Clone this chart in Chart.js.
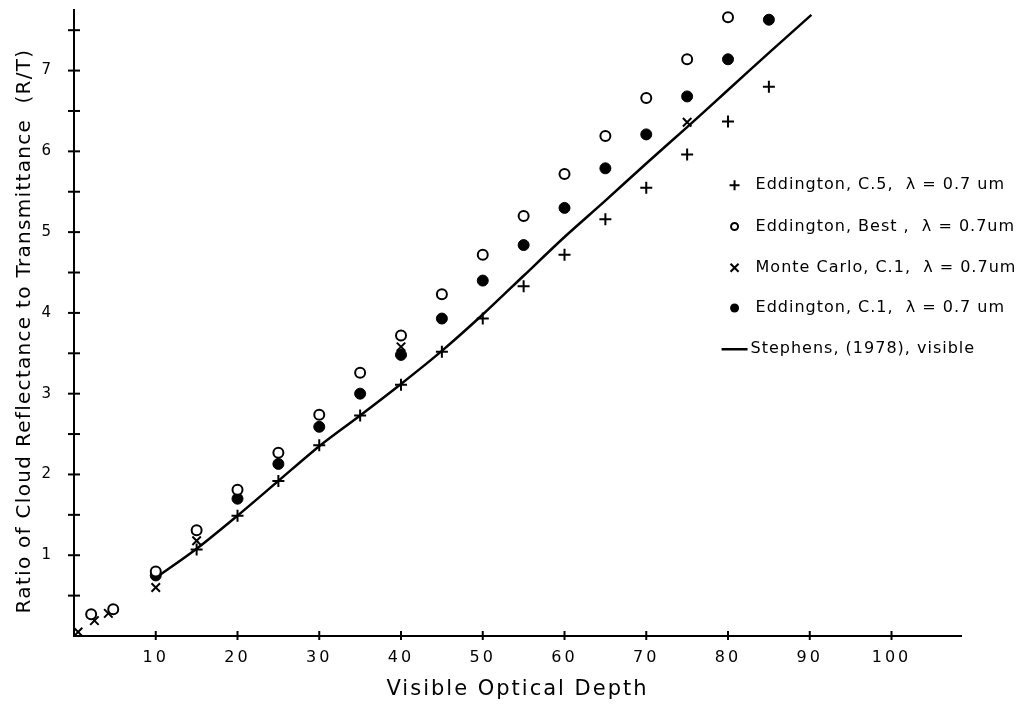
<!DOCTYPE html>
<html>
<head>
<meta charset="utf-8">
<script src="https://cdn.jsdelivr.net/npm/chart.js@4"></script>
<style>
  html, body { margin: 0; padding: 0; background: #fff; }
  #wrap { width: 1021px; height: 709px; }
</style>
</head>
<body>
<div id="wrap"><canvas id="rtChart" width="1021" height="709"></canvas></div>
<script>
// values
const c5Depth = [15, 20, 25, 30, 35, 40, 45, 50, 55, 60, 65, 70, 75, 80, 85];
const c5Ratio = [1.07, 1.49, 1.92, 2.36, 2.73, 3.11, 3.52, 3.93, 4.33, 4.72, 5.16, 5.55, 5.96, 6.37, 6.80];

const bestDepth = [2.1, 4.8, 10, 15, 20, 25, 30, 35, 40, 45, 50, 55, 60, 65, 70, 75, 80];
const bestRatio = [0.27, 0.33, 0.80, 1.31, 1.81, 2.27, 2.74, 3.26, 3.72, 4.23, 4.72, 5.20, 5.72, 6.19, 6.66, 7.14, 7.66];

const mcDepth = [0.5, 2.5, 4.2, 10, 15, 40, 75];
const mcRatio = [0.05, 0.19, 0.28, 0.60, 1.18, 3.58, 6.36];

const c1Depth = [10, 20, 25, 30, 35, 40, 45, 50, 55, 60, 65, 70, 75, 80, 85];
const c1Ratio = [0.75, 1.70, 2.13, 2.59, 3.00, 3.48, 3.93, 4.40, 4.84, 5.30, 5.79, 6.21, 6.68, 7.14, 7.63];

const stephensDepth = [10, 15, 20, 25, 30, 35, 40, 45, 50, 55, 60, 65, 70, 75, 80, 85, 90.2];
const stephensRatio = [0.72, 1.08, 1.49, 1.92, 2.35, 2.73, 3.12, 3.53, 3.98, 4.46, 4.94, 5.39, 5.85, 6.30, 6.76, 7.22, 7.69];

const seriesLabels = [
    'Eddington, C.5,  λ = 0.7 um',
    'Eddington, Best ,  λ = 0.7um',
    'Monte Carlo, C.1,  λ = 0.7um',
    'Eddington, C.1,  λ = 0.7 um',
    'Stephens, (1978), visible'
];

const xTickLabels = [10, 20, 30, 40, 50, 60, 70, 80, 90, 100];
const yTickLabels = [1, 2, 3, 4, 5, 6, 7];

const xTitle = 'Visible Optical Depth';
const yTitle = 'Ratio of Cloud Reflectance to Transmittance  (R/T)';

const FONT = 'DejaVu Sans';

function toPoints(xs, ys) {
    return xs.map((x, i) => ({ x: x, y: ys[i] }));
}

// the old figure has widely spaced lettering
const spacing = {
    id: 'spacing',
    beforeDraw(chart) {
        chart.ctx.letterSpacing = '3px';
    }
};

// little marks that cross the axis lines, as on the original plot
const crossTicks = {
    id: 'crossTicks',
    afterDraw(chart) {
        const ctx = chart.ctx;
        const xs = chart.scales.x, ys = chart.scales.y;
        const area = chart.chartArea;
        ctx.save();
        ctx.strokeStyle = '#000';
        ctx.lineWidth = 2;
        for (let v = 0.5; v <= 7.5; v += 0.5) {
            let py = ys.getPixelForValue(v);
            ctx.beginPath();
            ctx.moveTo(area.left - 6, py);
            ctx.lineTo(area.left + 6, py);
            ctx.stroke();
        }
        xTickLabels.forEach(v => {
            let px = xs.getPixelForValue(v);
            ctx.beginPath();
            ctx.moveTo(px, area.bottom - 5);
            ctx.lineTo(px, area.bottom + 4);
            ctx.stroke();
        });
        ctx.restore();
    }
};

// axis titles
const axisTitles = {
    id: 'axisTitles',
    afterDraw(chart) {
        const ctx = chart.ctx;
        const area = chart.chartArea;
        ctx.save();
        ctx.fillStyle = '#000';
        ctx.textAlign = 'center';
        ctx.textBaseline = 'middle';

        ctx.font = '21px "' + FONT + '"';
        ctx.letterSpacing = '2px';
        ctx.fillText(xTitle, (area.left + area.right) / 2, 690);

        ctx.font = '20px "' + FONT + '"';
        ctx.letterSpacing = '1.3px';
        ctx.translate(25, (area.top + area.bottom) / 2 + 8);
        ctx.rotate(-Math.PI / 2);
        ctx.fillText(yTitle, 0, 0);
        ctx.restore();
    }
};

// legend drawn inside the plot, to the right of the curve
const insideLegend = {
    id: 'insideLegend',
    afterDraw(chart) {
        const ctx = chart.ctx;
        const xs = chart.scales.x, ys = chart.scales.y;
        const mx = xs.getPixelForValue(80.8);
        const tx = mx + 21;
        const rows = [5.58, 5.07, 4.56, 4.06, 3.55];
        ctx.save();
        ctx.fillStyle = '#000';
        ctx.strokeStyle = '#000';
        ctx.font = '16px "' + FONT + '"';
        ctx.letterSpacing = '1px';
        ctx.textBaseline = 'middle';
        ctx.textAlign = 'left';
        rows.forEach((r, i) => {
            let y = ys.getPixelForValue(r);
            ctx.lineWidth = 2;
            ctx.beginPath();
            if (i === 0) {
                ctx.moveTo(mx - 5, y); ctx.lineTo(mx + 5, y);
                ctx.moveTo(mx, y - 5); ctx.lineTo(mx, y + 5);
                ctx.stroke();
            } else if (i === 1) {
                ctx.arc(mx, y, 3.5, 0, Math.PI * 2);
                ctx.stroke();
            } else if (i === 2) {
                ctx.moveTo(mx - 4, y - 4); ctx.lineTo(mx + 4, y + 4);
                ctx.moveTo(mx + 4, y - 4); ctx.lineTo(mx - 4, y + 4);
                ctx.stroke();
            } else if (i === 3) {
                ctx.arc(mx, y, 4.5, 0, Math.PI * 2);
                ctx.fill();
            } else {
                ctx.lineWidth = 2.5;
                ctx.moveTo(mx - 13, y); ctx.lineTo(mx + 13, y);
                ctx.stroke();
            }
            ctx.fillText(seriesLabels[i], i === 4 ? mx + 16 : tx, y);
        });
        ctx.restore();
    }
};

const ctx = document.getElementById('rtChart').getContext('2d');

const rtChart = new Chart(ctx, {
    type: 'scatter',
    data: {
        datasets: [{
            label: seriesLabels[0],
            data: toPoints(c5Depth, c5Ratio),
            pointStyle: 'cross',
            pointRadius: 6,
            borderColor: '#000',
            borderWidth: 2
        }, {
            label: seriesLabels[1],
            data: toPoints(bestDepth, bestRatio),
            pointStyle: 'circle',
            pointRadius: 5,
            backgroundColor: '#fff',
            borderColor: '#000',
            borderWidth: 2
        }, {
            label: seriesLabels[2],
            data: toPoints(mcDepth, mcRatio),
            pointStyle: 'crossRot',
            pointRadius: 6,
            borderColor: '#000',
            borderWidth: 2
        }, {
            label: seriesLabels[3],
            data: toPoints(c1Depth, c1Ratio),
            pointStyle: 'circle',
            pointRadius: 5.5,
            backgroundColor: '#000',
            borderColor: '#000',
            borderWidth: 1
        }, {
            label: seriesLabels[4],
            data: toPoints(stephensDepth, stephensRatio),
            showLine: true,
            pointRadius: 0,
            borderColor: '#000',
            borderWidth: 2.5,
            tension: 0.3,
            fill: false
        }]
    },
    options: {
        responsive: false,
        animation: false,
        layout: { autoPadding: false, padding: { top: 10, right: 60, left: 0, bottom: 0 } },
        plugins: {
            legend: { display: false },
            tooltip: { enabled: false }
        },
        scales: {
            x: {
                type: 'linear',
                min: 0,
                max: 108.5,
                afterFit(scale) {
                    scale.height = 73;
                    scale.paddingLeft = 0;
                    scale.paddingRight = 0;
                },
                grid: { display: false, drawTicks: false },
                border: { display: true, color: '#000', width: 2 },
                afterBuildTicks(scale) {
                    scale.ticks = xTickLabels.map(v => ({ value: v }));
                },
                ticks: {
                    color: '#000',
                    padding: 12,
                    font: { family: FONT, size: 16 },
                    maxRotation: 0,
                    autoSkip: false
                },
                title: { display: false }
            },
            y: {
                type: 'linear',
                min: 0,
                max: 7.75,
                afterFit(scale) {
                    scale.width = 74;
                    scale.paddingTop = 0;
                    scale.paddingBottom = 0;
                },
                grid: { display: false, drawTicks: false },
                border: { display: true, color: '#000', width: 2 },
                afterBuildTicks(scale) {
                    scale.ticks = yTickLabels.map(v => ({ value: v }));
                },
                ticks: {
                    color: '#000',
                    padding: 20,
                    font: { family: FONT, size: 15 },
                    autoSkip: false
                },
                title: { display: false }
            }
        }
    },
    plugins: [spacing, crossTicks, axisTitles, insideLegend]
});
</script>
</body>
</html>
